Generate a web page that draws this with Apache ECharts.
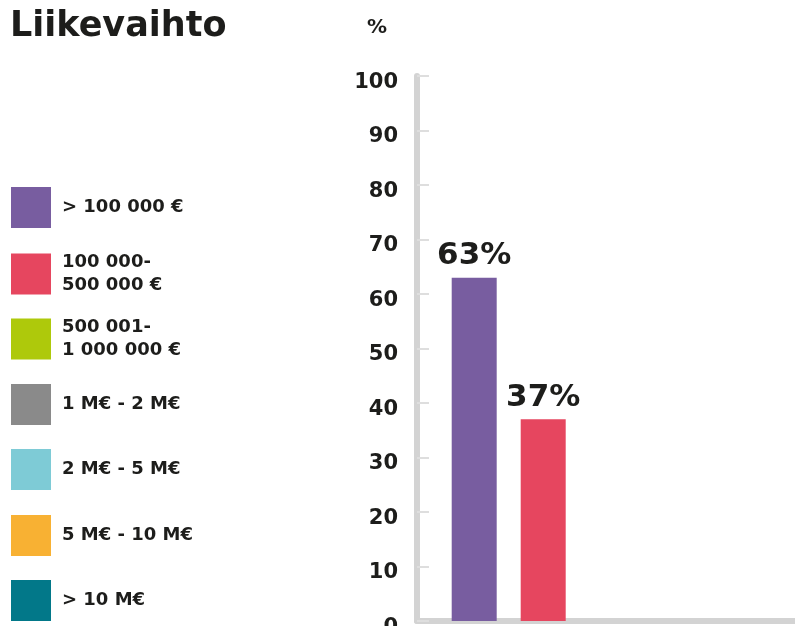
<!DOCTYPE html>
<html>
<head>
<meta charset="utf-8">
<script src="https://cdn.jsdelivr.net/npm/echarts@6/dist/echarts.min.js"></script>
<style>html,body{margin:0;padding:0;background:#fff;}#c{width:795px;height:626px;}</style>
</head>
<body>
<div id="c"></div>
<script>
const titleText = 'Liikevaihto';
const unitLabel = '%';
const seriesNames = ['> 100 000 €', '100 000-\n500 000 €', '500 001-\n1 000 000 €', '1 M€ - 2 M€', '2 M€ - 5 M€', '5 M€ - 10 M€', '> 10 M€'];
const seriesValues = [63, 37, 0, 0, 0, 0, 0];
const seriesColors = ['#785da0', '#e6465f', '#aec90b', '#8a8a8a', '#7ecbd6', '#f8b133', '#027889'];
const yTicks = [0, 10, 20, 30, 40, 50, 60, 70, 80, 90, 100];

const FONT = 'DejaVu Sans';
const TXT = '#1d1d1b';

// layout: bar slot spacing (px) and offset of first bar centre from the y axis
const GRID_LEFT = 417, CHART_W = 795;
const SLOT = 69, FIRST_OFFSET = 57.2;
const xMin = -FIRST_OFFSET / SLOT;
const xMax = xMin + (CHART_W - GRID_LEFT) / SLOT;

const chart = echarts.init(document.getElementById('c'));

const legends = seriesNames.map((n, i) => {
  const twoLine = n.indexOf('\n') >= 0;
  return {
    data: [n],
    orient: 'vertical',
    left: 11,
    top: Math.round(187 + i * 65.5) - (twoLine ? 2 : 0),
    icon: 'rect',
    itemWidth: 40,
    itemHeight: 41,
    itemGap: 0,
    padding: 0,
    selectedMode: false,
    textStyle: { fontFamily: FONT, fontWeight: 'bold', fontSize: 18, color: TXT, lineHeight: 23, padding: [0, 0, 0, 6] }
  };
});

chart.setOption({
  animation: false,
  title: [
    { text: titleText, left: 10, top: 9, padding: 0,
      textStyle: { fontFamily: FONT, fontWeight: 'bold', fontSize: 35, color: TXT } },
    { text: unitLabel, left: 367, top: 18, padding: 0,
      textStyle: { fontFamily: FONT, fontWeight: 'bold', fontSize: 20, color: TXT } }
  ],
  legend: legends,
  grid: { left: GRID_LEFT, top: 76, right: 0, bottom: 5, containLabel: false, outerBoundsMode: 'none' },
  xAxis: {
    type: 'value',
    min: xMin,
    max: xMax,
    axisLine: { show: true, onZero: false, lineStyle: { color: '#d3d3d3', width: 6 } },
    axisTick: { show: false },
    axisLabel: { show: false },
    splitLine: { show: false }
  },
  yAxis: {
    type: 'value',
    min: yTicks[0],
    max: yTicks[yTicks.length - 1],
    interval: 10,
    axisLine: { show: true, onZero: false, lineStyle: { color: '#d3d3d3', width: 6 } },
    axisTick: { show: true, inside: true, length: 12, lineStyle: { color: '#dedede', width: 2 } },
    axisLabel: { margin: 19, fontFamily: FONT, fontWeight: 'bold', fontSize: 21, color: TXT, verticalAlign: 'top', lineHeight: 13 },
    splitLine: { show: false }
  },
  series: seriesNames.map((n, i) => ({
    name: n,
    type: 'bar',
    data: [[i, seriesValues[i]]],
    barWidth: 45,
    barGap: '-100%',
    itemStyle: { color: seriesColors[i] },
    label: {
      show: true,
      position: 'top',
      distance: 6,
      fontFamily: FONT,
      fontWeight: 'bold',
      fontSize: 31,
      color: TXT,
      formatter: p => (p.value[1] ? p.value[1] + '%' : '')
    }
  }))
});
</script>
</body>
</html>
